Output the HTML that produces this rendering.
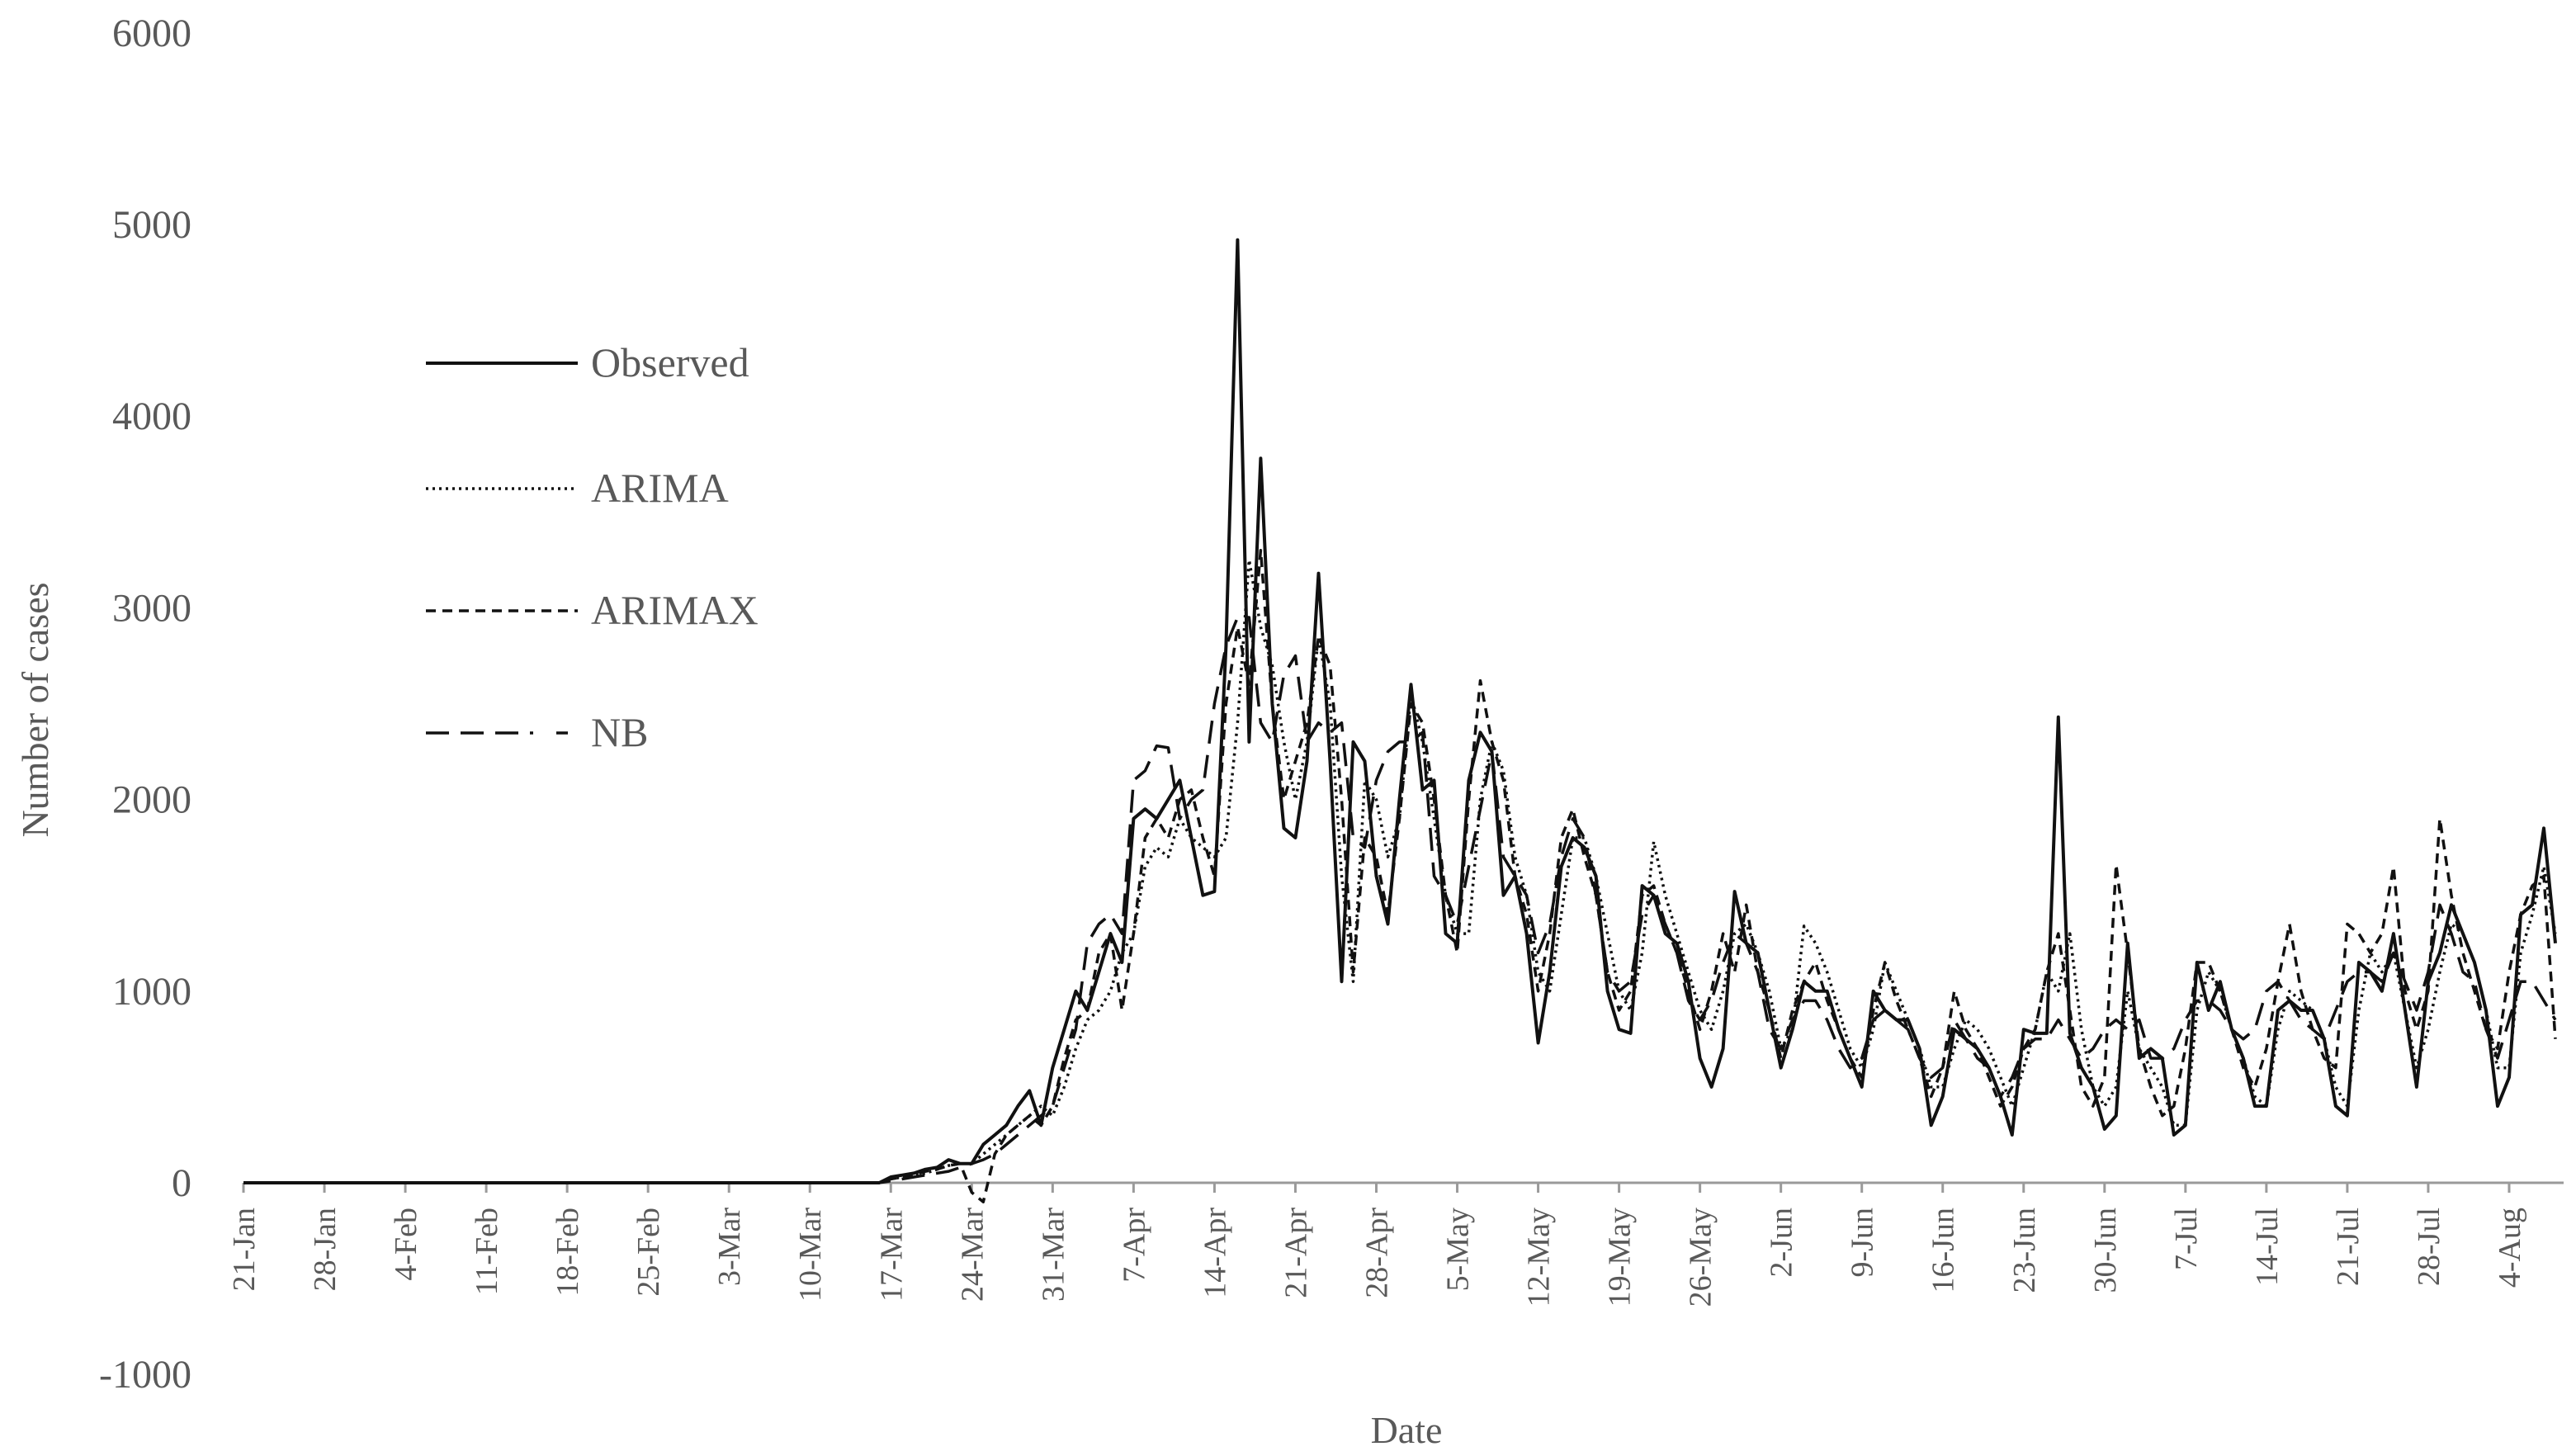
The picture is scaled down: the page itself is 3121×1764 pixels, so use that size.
<!DOCTYPE html>
<html><head><meta charset="utf-8"><style>
body{margin:0;background:#fff}
svg{display:block}
text{font-family:"Liberation Serif",serif;fill:#595959}
</style></head><body>
<svg id="chart" width="3121" height="1764" viewBox="0 0 3121 1764" xmlns="http://www.w3.org/2000/svg">
<g id="grid"></g><g id="series"></g><g id="legend"></g>
<text transform="translate(58,860) rotate(-90)" text-anchor="middle" font-size="46">Number of cases</text>
<text x="1704" y="1748" text-anchor="middle" font-size="46">Date</text>
</svg>
<script>
const startDay = 56;
const yTicks = [-1000,0,1000,2000,3000,4000,5000,6000];
const xTickLabels = ["21-Jan","28-Jan","4-Feb","11-Feb","18-Feb","25-Feb","3-Mar","10-Mar","17-Mar","24-Mar","31-Mar","7-Apr","14-Apr","21-Apr","28-Apr","5-May","12-May","19-May","26-May","2-Jun","9-Jun","16-Jun","23-Jun","30-Jun","7-Jul","14-Jul","21-Jul","28-Jul","4-Aug"];
const observed = [30,40,50,70,80,120,100,100,
200,250,300,400,480,300,600,800,1000,900,1100,1300,1150,1900,
1950,1900,2000,2100,1800,1500,1520,2800,4920,2300,3780,2500,1850,1800,
2200,3180,2200,1050,2300,2200,1600,1350,2000,2600,2050,2100,1300,1250,
2100,2350,2250,1500,1600,1300,730,1100,1650,1800,1750,1600,1000,800,
780,1550,1500,1300,1250,1050,650,500,700,1520,1250,1200,900,600,
800,1050,1000,1000,800,650,500,1000,900,850,850,700,300,450,
800,750,700,600,450,250,800,780,780,2430,780,600,500,280,
350,1250,650,700,650,250,300,1150,900,1050,800,650,400,400,
900,950,900,900,750,400,350,1150,1100,1000,1300,900,500,1050,
1200,1450,1300,1150,900,400,550,1400,1450,1850,1250];
const arima = [20,30,40,50,70,90,100,100,
150,200,250,300,350,400,350,500,700,850,900,1000,1200,1300,
1650,1750,1700,1900,1800,1750,1700,1800,2400,3250,2900,2700,2300,2000,
2300,2850,2500,1600,1050,2100,2000,1700,1900,2550,2300,1900,1500,1300,
1300,2000,2300,2150,1700,1500,1100,1000,1400,1800,1800,1600,1300,1000,
900,1200,1780,1500,1300,1100,900,800,1000,1300,1350,1200,1000,700,
800,1340,1250,1100,900,700,600,800,1150,1000,850,700,500,500,
700,850,800,700,550,400,600,800,1100,1000,1300,800,500,400,
500,1000,700,600,500,300,300,900,1100,1000,800,650,450,400,
800,1000,950,900,750,500,400,900,1200,1100,1200,900,600,800,
1100,1350,1300,1150,900,600,600,1200,1400,1650,1300];
const arimax = [20,30,40,60,70,90,100,-50,
-100,150,250,300,350,300,400,650,850,900,1200,1300,900,1300,
1800,1900,1800,2000,2050,1800,1600,2500,2900,2600,3300,2500,2000,2200,
2400,2850,2700,2000,1100,1800,1700,1400,1900,2500,2400,2000,1500,1200,
2000,2620,2300,2100,1600,1400,1000,1300,1800,1950,1700,1500,1100,900,
1000,1500,1550,1350,1200,1000,800,1000,1300,1100,1450,1100,900,650,
900,1050,1150,950,800,650,550,900,1150,950,800,650,450,600,
1000,800,700,550,400,500,700,800,1100,1300,900,500,400,550,
1660,1200,700,500,350,400,700,1150,1150,1000,800,600,500,700,
1050,1350,1000,800,650,600,1350,1300,1200,1300,1650,1000,800,1000,
1900,1500,1200,1000,800,700,1100,1400,1550,1600,750];
const nb = [10,20,30,40,50,60,80,100,
120,150,200,250,300,350,400,600,800,1250,1350,1400,1300,2100,
2150,2280,2270,1900,2000,2050,2500,2800,2950,2950,2400,2300,2650,2750,
2300,2400,2350,2400,1800,1750,2100,2250,2300,2300,2350,1600,1500,1350,
1650,1950,2250,1700,1600,1500,1200,1350,1700,1900,1800,1500,1100,1000,
1050,1400,1500,1350,1200,950,850,950,1150,1300,1250,1100,800,700,
850,950,950,850,700,600,650,850,900,850,800,650,550,600,
850,750,650,600,450,550,700,750,750,850,750,650,700,800,
850,800,850,650,650,700,850,950,950,900,800,750,800,1000,
1050,950,850,800,750,900,1050,1100,1100,1050,1200,1050,900,1100,
1450,1300,1100,1050,800,650,850,1050,1050,950,850];

const NS='http://www.w3.org/2000/svg';
const X0=295, DX=14.005, Y0=1433, DY=0.2322;
const xs=d=>X0+d*DX, ys=v=>Y0-v*DY;
function mk(tag,attrs,parent){const e=document.createElementNS(NS,tag);for(const k in attrs)e.setAttribute(k,attrs[k]);parent.appendChild(e);return e;}
const grid=document.getElementById('grid');
for(const t of yTicks){
  const e=mk('text',{x:232,y:ys(t)+16,'text-anchor':'end','font-size':48},grid);
  
  
  e.textContent=t;
}
const ax=mk('line',{x1:xs(0),x2:xs(200)+10,y1:Y0,y2:Y0,stroke:'#9a9a9a','stroke-width':3},grid);


xTickLabels.forEach((lab,i)=>{
  const x=xs(i*7);
  const tk=mk('line',{x1:x,x2:x,y1:Y0,y2:Y0+12,stroke:'#9a9a9a','stroke-width':3},grid);
  
  
  const e=mk('text',{transform:`translate(${x+13},${Y0+30}) rotate(-90)`,'text-anchor':'end','font-size':38},grid);
  
  
  e.textContent=lab;
});
function path(arr){
  let p='M'+xs(0)+','+ys(0)+' L'+xs(startDay-1)+','+ys(0);
  arr.forEach((v,i)=>{p+=' L'+xs(startDay+i).toFixed(1)+','+ys(v).toFixed(1);});
  return p;
}
const ser=document.getElementById('series');
const styles=[
 {name:'arima-line',data:arima,dash:'3 5',w:3.5},
 {name:'arimax-line',data:arimax,dash:'12 8',w:3.5},
 {name:'nb-line',data:nb,dash:'28 14',w:3.5},
 {name:'observed-line',data:observed,dash:'',w:4}
];
for(const s of styles){
  const e=mk('path',{d:path(s.data),fill:'none',stroke:'#111','stroke-width':s.w,'stroke-dasharray':s.dash,'stroke-linejoin':'round'},ser);
  
  
}
const leg=document.getElementById('legend');
const legItems=[['Observed','',4,440],['ARIMA','3 5',3.5,592],['ARIMAX','12 8',3.5,740],['NB','28 14 28 14 28 14 4',3.5,888]];
for(const [lab,dash,w,y] of legItems){
  const l=mk('line',{x1:516,x2:700,y1:y,y2:y,stroke:'#111','stroke-width':w,'stroke-dasharray':dash},leg);
  
  
  const t=mk('text',{x:716,y:y+16,'font-size':50},leg);
  
  
  t.textContent=lab;
}
</script>
</body></html>
